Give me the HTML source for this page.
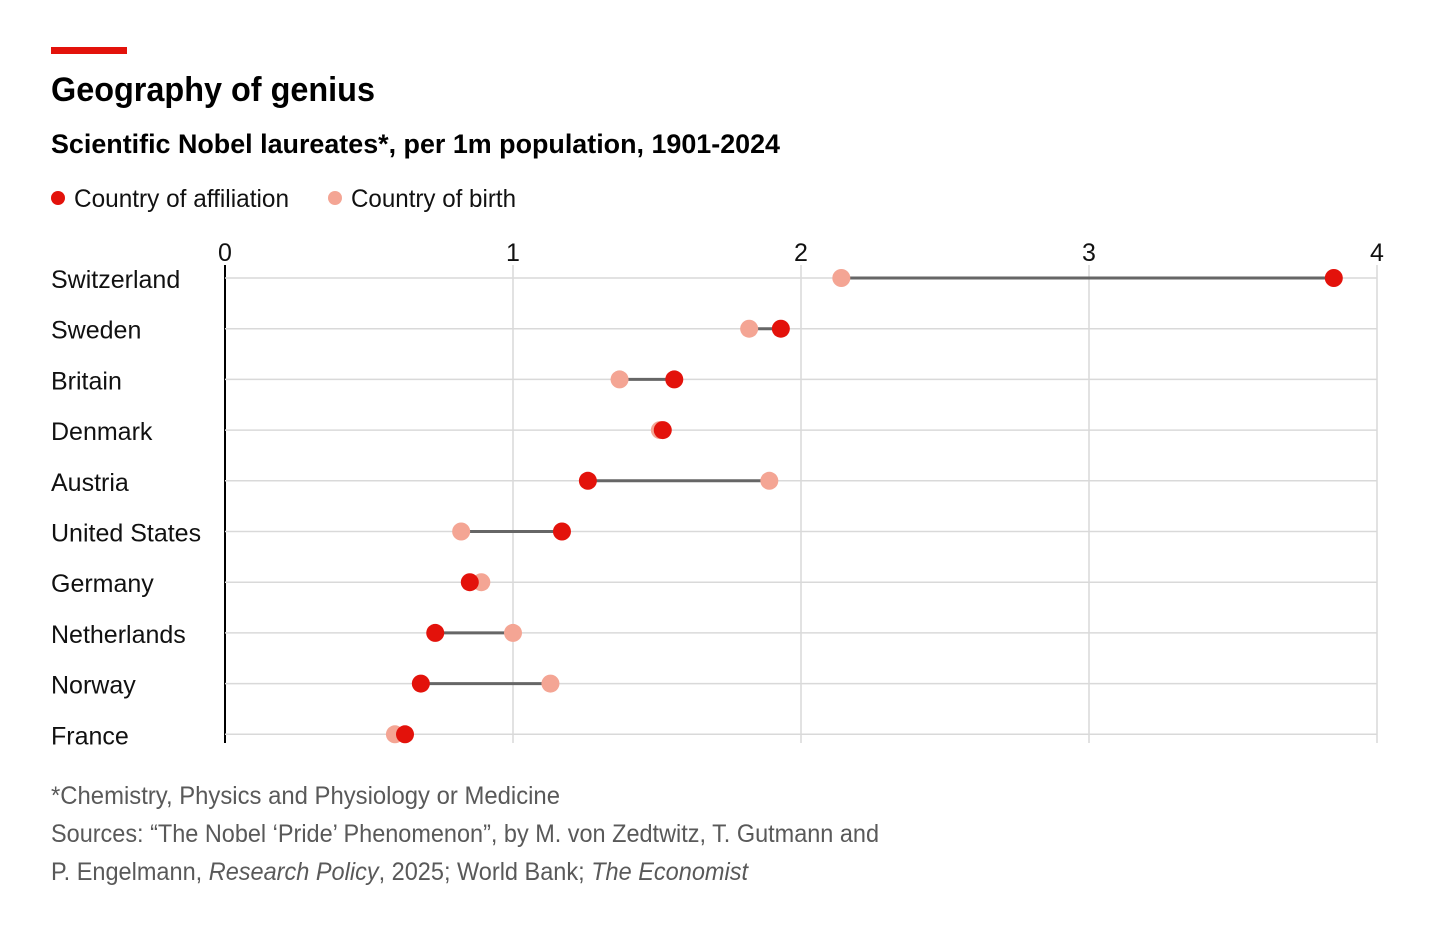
<!DOCTYPE html>
<html><head><meta charset="utf-8"><style>
html,body{margin:0;padding:0;background:#fff;}
svg{display:block;font-family:"Liberation Sans",sans-serif;}
</style></head><body>
<svg id="chart" width="1456" height="927" viewBox="0 0 1456 927">
<rect x="51" y="47" width="76" height="7" fill="#e3120b"/>
<text x="51" y="101" font-size="34" font-weight="bold" fill="#000" textLength="324" lengthAdjust="spacingAndGlyphs">Geography of genius</text>
<text x="51" y="153" font-size="27" font-weight="bold" fill="#000" textLength="729" lengthAdjust="spacingAndGlyphs">Scientific Nobel laureates*, per 1m population, 1901-2024</text>
<g>
<circle cx="58" cy="198" r="7" fill="#e3120b"/>
<text x="74" y="207" font-size="25" fill="#111" textLength="215" lengthAdjust="spacingAndGlyphs">Country of affiliation</text>
<circle cx="335" cy="198" r="7" fill="#f4a594"/>
<text x="351" y="207" font-size="25" fill="#111" textLength="165" lengthAdjust="spacingAndGlyphs">Country of birth</text>
</g>
<g id="plot"></g>
<g fill="#595959" font-size="25">
<text x="51" y="804" textLength="509" lengthAdjust="spacingAndGlyphs">*Chemistry, Physics and Physiology or Medicine</text>
<text x="51" y="842" textLength="828" lengthAdjust="spacingAndGlyphs">Sources: “The Nobel ‘Pride’ Phenomenon”, by M. von Zedtwitz, T. Gutmann and</text>
<text x="51" y="880" textLength="697" lengthAdjust="spacingAndGlyphs">P. Engelmann, <tspan font-style="italic">Research Policy</tspan>, 2025; World Bank; <tspan font-style="italic">The Economist</tspan></text>
</g>
</svg>
<script>
const countries = ["Switzerland","Sweden","Britain","Denmark","Austria","United States","Germany","Netherlands","Norway","France"];
const affiliation = [3.85,1.93,1.56,1.52,1.26,1.17,0.85,0.73,0.68,0.625];
const birth = [2.14,1.82,1.37,1.51,1.89,0.82,0.89,1.0,1.13,0.59];
const ticks = [0,1,2,3,4];

const NS="http://www.w3.org/2000/svg";
const g=document.getElementById('plot');
const x0=225,x1=1377,yTop=265,yBot=743;
const xs=v=>x0+(v-ticks[0])/(ticks[ticks.length-1]-ticks[0])*(x1-x0);
const ys=i=>278+i*50.7;
function mk(tag,attrs){const e=document.createElementNS(NS,tag);for(const k in attrs)e.setAttribute(k,attrs[k]);g.appendChild(e);return e;}
ticks.forEach(t=>{
  const l=mk('line',{x1:xs(t),x2:xs(t),y1:yTop,y2:yBot,stroke:t===0?'#000':'#d9d9d9','stroke-width':t===0?2:1.5});
  
  
  const tx=mk('text',{x:xs(t),y:261,'font-size':25,'text-anchor':'middle',fill:'#111'});
  tx.textContent=t;
  
  
});
countries.forEach((c,i)=>{
  const y=ys(i);
  const gl=mk('line',{x1:x0,x2:x1,y1:y,y2:y,stroke:'#d9d9d9','stroke-width':1.5});
  
  
  const lb=mk('text',{x:51,y:y+10,'font-size':25,fill:'#111'});
  lb.textContent=c;
  
  
  const cn=mk('line',{x1:xs(birth[i]),x2:xs(affiliation[i]),y1:y,y2:y,stroke:'#666','stroke-width':3});
  
  
  const b=mk('circle',{cx:xs(birth[i]),cy:y,r:9,fill:'#f4a594'});
  
  
  const a=mk('circle',{cx:xs(affiliation[i]),cy:y,r:9,fill:'#e3120b'});
  
  
});
</script>
</body></html>
